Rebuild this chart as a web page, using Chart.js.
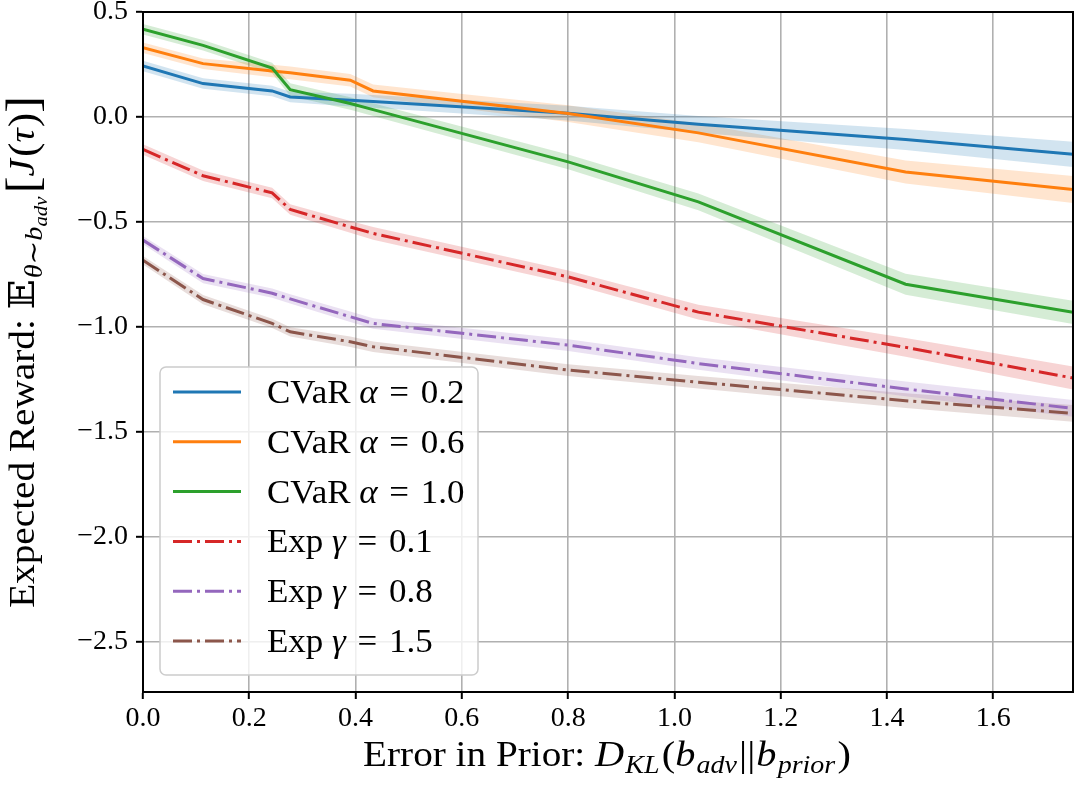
<!DOCTYPE html>
<html>
<head>
<meta charset="utf-8">
<script src="https://cdn.jsdelivr.net/npm/chart.js@4.4.0/dist/chart.umd.min.js"></script>
<style>
  html, body { margin: 0; padding: 0; background: #fff; }
  canvas { display: block; }
</style>
</head>
<body>
<canvas id="myChart" width="1084" height="790"></canvas>
<script>
// KL divergence of the adversarial prior (x axis)
const klDiv = [0, 0.113, 0.243, 0.277, 0.39, 0.433, 0.8, 1.045, 1.435, 1.75];

// mean expected reward per method
const cvar02 = [0.243, 0.159, 0.124, 0.095, 0.08, 0.074, 0.018, -0.035, -0.108, -0.178];
const cvar06 = [0.33, 0.254, 0.219, 0.21, 0.175, 0.124, 0.016, -0.076, -0.262, -0.346];
const cvar10 = [0.418, 0.341, 0.233, 0.13, 0.064, 0.035, -0.214, -0.405, -0.797, -0.931];
const exp01 = [-0.155, -0.28, -0.362, -0.441, -0.524, -0.555, -0.762, -0.93, -1.098, -1.244];
const exp08 = [-0.587, -0.77, -0.84, -0.867, -0.952, -0.984, -1.087, -1.175, -1.296, -1.389];
const exp15 = [-0.683, -0.87, -0.984, -1.024, -1.071, -1.095, -1.206, -1.264, -1.352, -1.412];

// spread (half width of shaded band)
const cvar02Std = [0.025, 0.025, 0.025, 0.025, 0.03, 0.03, 0.035, 0.04, 0.05, 0.06];
const cvar06Std = [0.025, 0.025, 0.03, 0.03, 0.03, 0.03, 0.04, 0.045, 0.055, 0.064];
const cvar10Std = [0.025, 0.025, 0.025, 0.03, 0.03, 0.03, 0.035, 0.04, 0.05, 0.055];
const exp01Std = [0.025, 0.025, 0.025, 0.025, 0.028, 0.03, 0.03, 0.035, 0.045, 0.055];
const exp08Std = [0.02, 0.022, 0.022, 0.022, 0.025, 0.025, 0.028, 0.03, 0.035, 0.04];
const exp15Std = [0.02, 0.022, 0.022, 0.022, 0.025, 0.025, 0.028, 0.03, 0.035, 0.04];

const xTicks = [0, 0.2, 0.4, 0.6, 0.8, 1.0, 1.2, 1.4, 1.6];
const yTicks = [0.5, 0, -0.5, -1.0, -1.5, -2.0, -2.5];

const dashDot = [19, 5, 3, 5];
const series = [
    { label: ['CVaR ', 'α', ' = 0.2'], mean: cvar02, std: cvar02Std, color: '31,119,180', dash: [] },
    { label: ['CVaR ', 'α', ' = 0.6'], mean: cvar06, std: cvar06Std, color: '255,127,14', dash: [] },
    { label: ['CVaR ', 'α', ' = 1.0'], mean: cvar10, std: cvar10Std, color: '44,160,44', dash: [] },
    { label: ['Exp ', 'γ', ' = 0.1'], mean: exp01, std: exp01Std, color: '214,39,40', dash: dashDot },
    { label: ['Exp ', 'γ', ' = 0.8'], mean: exp08, std: exp08Std, color: '148,103,189', dash: dashDot },
    { label: ['Exp ', 'γ', ' = 1.5'], mean: exp15, std: exp15Std, color: '140,86,75', dash: dashDot }
];

const SERIF = '"Liberation Serif", "DejaVu Serif", serif';

const datasets = [];
series.forEach(function (s) {
    datasets.push({
        label: 'upper',
        data: klDiv.map((x, i) => ({ x: x, y: s.mean[i] + s.std[i] })),
        borderWidth: 0, pointRadius: 0, fill: false, order: 2
    });
    datasets.push({
        label: 'lower',
        data: klDiv.map((x, i) => ({ x: x, y: s.mean[i] - s.std[i] })),
        borderWidth: 0, pointRadius: 0, fill: '-1',
        backgroundColor: 'rgba(' + s.color + ',0.2)', order: 2
    });
});
series.forEach(function (s, k) {
    datasets.push({
        label: s.label.join(''),
        data: klDiv.map((x, i) => ({ x: x, y: s.mean[i] })),
        borderColor: 'rgb(' + s.color + ')',
        borderWidth: 3,
        borderDash: s.dash,
        pointRadius: 0,
        fill: false,
        tension: 0,
        order: 1 - k * 0.01
    });
});

function fontStr(seg) {
    return (seg.it ? 'italic ' : '') + seg.sz + 'px ' + SERIF;
}

// draws a row of text pieces (normal / italic / subscript), stretched a bit
// horizontally because the original face is wider than Liberation Serif
function drawRich(ctx, segs, x, y, center, stretch) {
    stretch = stretch || 1;
    let w = 0;
    segs.forEach(function (s) { ctx.font = fontStr(s); w += ctx.measureText(s.t).width + (s.gap || 0); });
    ctx.save();
    ctx.translate(x, y);
    ctx.scale(stretch, 1);
    let cx = center ? -w / 2 : 0;
    ctx.textBaseline = 'alphabetic';
    ctx.textAlign = 'left';
    segs.forEach(function (s) {
        ctx.font = fontStr(s);
        ctx.fillText(s.t, cx, s.dy || 0);
        cx += ctx.measureText(s.t).width + (s.gap || 0);
    });
    ctx.restore();
}

const decorations = {
    id: 'decorations',
    afterDatasetsDraw(chart) {
        const ctx = chart.ctx;
        const a = chart.chartArea;
        ctx.save();
        ctx.strokeStyle = '#000';
        ctx.lineWidth = 2;
        ctx.strokeRect(a.left, a.top, a.right - a.left, a.bottom - a.top);
        ctx.restore();
    },
    afterDraw(chart) {
        const ctx = chart.ctx;
        ctx.save();
        ctx.fillStyle = '#000';

        // y axis title
        ctx.save();
        ctx.translate(34, 352);
        ctx.rotate(-Math.PI / 2);
        drawRich(ctx, [
            { t: 'Expected Reward: ', sz: 36 },
            { t: '𝔼', sz: 36, gap: 1 },
            { t: 'θ∼b', sz: 26, it: true, dy: 8 },
            { t: 'adv', sz: 19, it: true, dy: 13, gap: 3 },
            { t: '[', sz: 46, dy: 4 },
            { t: 'J', sz: 36, it: true, gap: 2 },
            { t: '(', sz: 40, dy: 2 },
            { t: 'τ', sz: 36, it: true, gap: 1 },
            { t: ')', sz: 40, dy: 2 },
            { t: ']', sz: 46, dy: 4 }
        ], 0, 0, true, 1.09);
        ctx.restore();

        // x axis title
        drawRich(ctx, [
            { t: 'Error in Prior: ', sz: 35 },
            { t: 'D', sz: 36, it: true, gap: 1 },
            { t: 'KL', sz: 25, it: true, dy: 7, gap: 2 },
            { t: '(', sz: 36 },
            { t: 'b', sz: 36, it: true, gap: 1 },
            { t: 'adv', sz: 25, it: true, dy: 7, gap: 2 },
            { t: '||', sz: 36, gap: 1 },
            { t: 'b', sz: 36, it: true, gap: 1 },
            { t: 'prior', sz: 25, it: true, dy: 7, gap: 2 },
            { t: ')', sz: 36 }
        ], 607, 766, true, 1.12);

        // legend
        const bx = 160, by = 367, bw = 318, bh = 308;
        ctx.beginPath();
        ctx.roundRect(bx, by, bw, bh, 6);
        ctx.fillStyle = 'rgba(255,255,255,0.8)';
        ctx.fill();
        ctx.strokeStyle = '#cccccc';
        ctx.lineWidth = 1.5;
        ctx.stroke();
        series.forEach(function (s, i) {
            const yc = 392 + i * 49.8;
            ctx.beginPath();
            ctx.setLineDash(s.dash);
            ctx.strokeStyle = 'rgb(' + s.color + ')';
            ctx.lineWidth = 3;
            ctx.moveTo(173, yc);
            ctx.lineTo(241, yc);
            ctx.stroke();
            ctx.setLineDash([]);
            ctx.fillStyle = '#000';
            drawRich(ctx, [
                { t: s.label[0], sz: 33 },
                { t: s.label[1], sz: 33, it: true },
                { t: s.label[2].replace(' = ', ' \u200A=\u200A '), sz: 33 }
            ], 267, yc + 11, false, 1.06);
        });
        ctx.restore();
    }
};

const ctxL = document.getElementById('myChart').getContext('2d');
const myLineChart = new Chart(ctxL, {
    type: 'line',
    data: { datasets: datasets },
    options: {
        responsive: false,
        devicePixelRatio: 1,
        animation: false,
        layout: { padding: { left: 0, top: 12, right: 11, bottom: 0 } },
        plugins: {
            legend: { display: false },
            tooltip: { enabled: false }
        },
        scales: {
            x: {
                type: 'linear',
                min: 0,
                max: 1.75,
                afterBuildTicks: function (scale) { scale.ticks = xTicks.map(v => ({ value: v })); },
                afterFit: function (scale) {
                    scale.height = 98;
                    scale.paddingLeft = 0;
                    scale.paddingRight = 0;
                },
                grid: { color: '#b0b0b0', lineWidth: 1.6, tickLength: 7, tickColor: '#000', tickWidth: 2 },
                border: { color: '#000', width: 2 },
                ticks: {
                    color: '#000',
                    padding: 6,
                    maxRotation: 0,
                    font: { family: SERIF, size: 28, lineHeight: 1 },
                    callback: v => v.toFixed(1)
                }
            },
            y: {
                type: 'linear',
                min: -2.74,
                max: 0.5,
                afterBuildTicks: function (scale) { scale.ticks = yTicks.map(v => ({ value: v })); },
                afterFit: function (scale) {
                    scale.width = 143;
                    scale.paddingTop = 0;
                    scale.paddingBottom = 0;
                },
                grid: { color: '#b0b0b0', lineWidth: 1.6, tickLength: 7, tickColor: '#000', tickWidth: 2 },
                border: { color: '#000', width: 2 },
                ticks: {
                    color: '#000',
                    padding: 8,
                    font: { family: SERIF, size: 28, lineHeight: 1 },
                    callback: v => (v < 0 ? '−' + Math.abs(v).toFixed(1) : v.toFixed(1))
                }
            }
        }
    },
    plugins: [decorations]
});
</script>
</body>
</html>
